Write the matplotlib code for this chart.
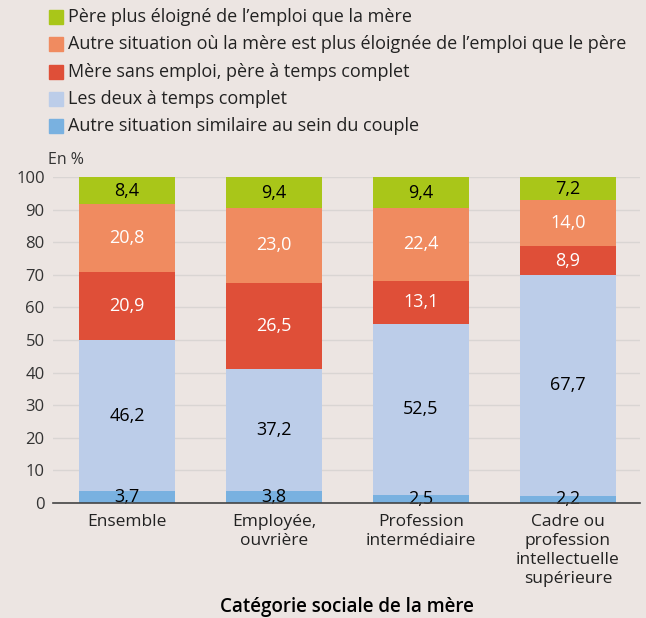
import matplotlib
matplotlib.use("Agg")
import matplotlib.pyplot as plt
import numpy as np

plt.rcParams['font.family'] = ['Open Sans', 'DejaVu Sans']

categories = ["Ensemble", "Employée,\nouvrière", "Profession\nintermédiaire",
              "Cadre ou\nprofession\nintellectuelle\nsupérieure"]
series_names = [
    "Autre situation similaire au sein du couple",
    "Les deux à temps complet",
    "Mère sans emploi, père à temps complet",
    "Autre situation où la mère est plus éloignée de l\u2019emploi que le père",
    "Père plus éloigné de l\u2019emploi que la mère",
]
autre_similaire = [3.7, 3.8, 2.5, 2.2]
deux_temps_complet = [46.2, 37.2, 52.5, 67.7]
mere_sans_emploi = [20.9, 26.5, 13.1, 8.9]
autre_mere = [20.8, 23.0, 22.4, 14.0]
pere_eloigne = [8.4, 9.4, 9.4, 7.2]
values = [autre_similaire, deux_temps_complet, mere_sans_emploi, autre_mere, pere_eloigne]
colors = ["#79b1e0", "#bccde9", "#df4f38", "#f08b60", "#a9c619"]
label_colors = ["black", "black", "white", "white", "black"]

bg = "#ece5e2"
fig = plt.figure(figsize=(6.46, 6.18), dpi=100, facecolor=bg)
ax = fig.add_axes([53/646, 1-503/618, (640-53)/646, (503-177)/618])
ax.set_facecolor(bg)

x = np.arange(len(categories))
bottom = np.zeros(len(categories))
for vals, col, lc in zip(values, colors, label_colors):
    ax.bar(x, vals, width=0.65, bottom=bottom, color=col, zorder=3)
    for xi, v, bt in zip(x, vals, bottom):
        ax.text(xi, bt + v/2, f"{v:.1f}".replace(".", ","), ha="center", va="center",
                color=lc, fontsize=13, zorder=4)
    bottom += np.array(vals)

ax.set_xlim(-0.503, 3.49)
ax.set_ylim(0, 100)
ax.set_yticks(range(0, 101, 10))
ax.tick_params(axis='y', length=0, labelsize=12, colors="#333333", pad=6)
ax.tick_params(axis='x', length=0, labelsize=12.5, colors="#222222", pad=8)
ax.set_xticks(x)
ax.set_xticklabels(categories, linespacing=1.25)
ax.grid(axis='y', color="#d9d5d3", linewidth=1, zorder=0)
for s in ["top", "right", "left"]:
    ax.spines[s].set_visible(False)
ax.spines["bottom"].set_color("#444444")
ax.spines["bottom"].set_linewidth(1.2)
ax.spines["bottom"].set_zorder(5)

fig.text(48/646, 1-160/618, "En %", fontsize=11.5, color="#333333", va="center", ha="left")
fig.text(347/646, 1-607/618, "Catégorie sociale de la mère",
         fontsize=13.5, ha="center", va="center", color="black", fontweight="semibold")

leg_y = [17, 44, 72, 99, 126]
for name, col, yy in zip(series_names[::-1], colors[::-1], leg_y):
    fig.patches.append(plt.Rectangle((49/646, 1-(yy+7)/618), 14/646, 14/618,
                                     transform=fig.transFigure, color=col, figure=fig))
    fig.text(68/646, 1-yy/618, name, fontsize=13, va="center", ha="left", color="#222222")

fig.savefig("out.png", dpi=100, facecolor=bg)
